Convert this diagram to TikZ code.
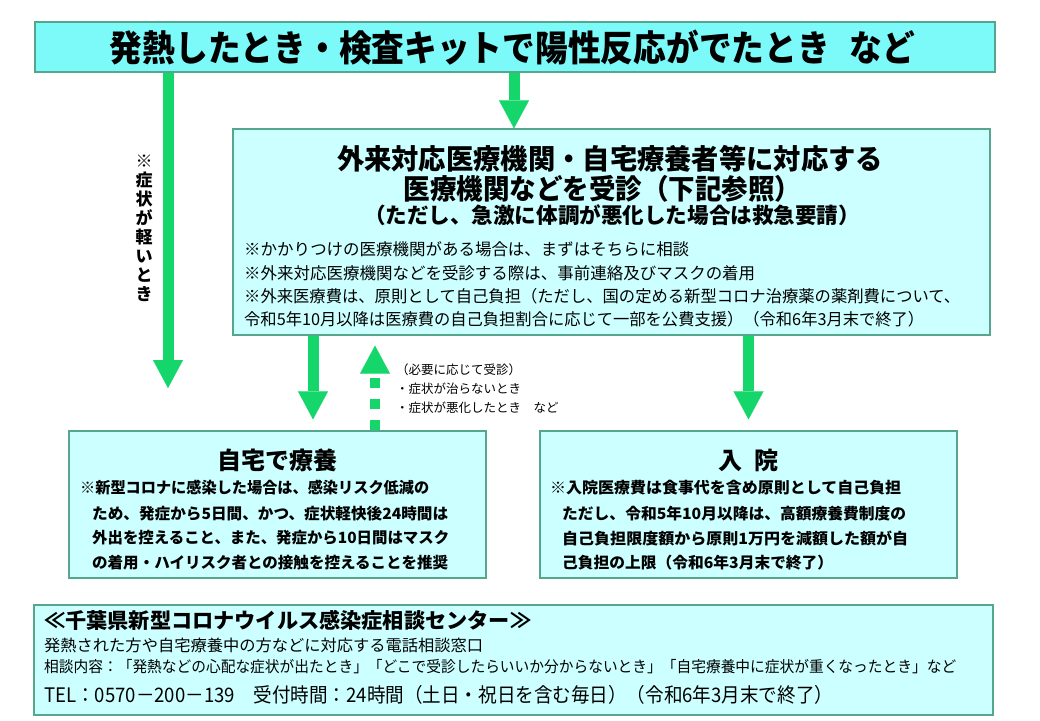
\documentclass[tikz,border=0pt]{standalone}
\usepackage{fontspec}
\usepackage{graphicx}
\usetikzlibrary{arrows.meta}
\newfontfamily\jp{Noto Sans CJK JP}
\definecolor{topfill}{HTML}{7CFAFA}
\definecolor{boxfill}{HTML}{CCFFFF}
\definecolor{boxline}{HTML}{55A68C}
\definecolor{arrowgreen}{HTML}{14D66A}
\newcommand\fw[2]{\resizebox{#1pt}{\height}{#2}}
\newcommand\fsz[1]{\fontsize{#1}{#1}\selectfont}
\begin{document}
\begin{tikzpicture}[x=1pt,y=-1pt,
  panel/.style={draw=boxline,line width=1.3pt,fill=boxfill,inner sep=0pt},
  txt/.style={inner sep=0pt,font=\jp},
  btxt/.style={inner sep=0pt,font=\jp\bfseries},
  garrow/.style={draw=arrowgreen,line width=11pt,
    -{Triangle[width=30pt,length=28pt,line width=0.1pt]}},
  darrow/.style={draw=arrowgreen,line width=10pt,dash pattern=on 10pt off 11pt,
    -{Triangle[width=30pt,length=28pt,line width=0.1pt]}}]
\useasboundingbox (0,0) rectangle (1040,720);
\fill[white] (0,0) rectangle (1040,720);

% boxes
\node[panel,fill=topfill,minimum width=960pt,minimum height=50pt] (top) at (515,47) {};
\node[panel,minimum width=757pt,minimum height=206pt] (mid) at (611.5,232) {};
\node[panel,minimum width=417pt,minimum height=147pt] (home) at (277.5,504.5) {};
\node[panel,minimum width=417pt,minimum height=147pt] (hosp) at (748.5,504.5) {};
\node[panel,minimum width=959pt,minimum height=110pt] (info) at (513.5,660) {};

% top title
\node[btxt] (toptitle) at (512.5,48) {\fsz{36}\fw{805}{発熱したとき・検査キットで陽性反応がでたとき\hspace{0.6em}など}};

% middle box
\node[btxt] (m1) at (610,159) {\fsz{28}\fw{546}{外来対応医療機関・自宅療養者等に対応する}};
\node[btxt] (m2) at (602.5,189) {\fsz{28}\fw{398}{医療機関などを受診（下記参照）}};
\node[btxt] (m3) at (612,215) {\fsz{21.5}\fw{496}{（ただし、急激に体調が悪化した場合は救急要請）}};
\node[txt,anchor=west] (n1) at (244,249) {\fsz{16.5}\fw{445}{※かかりつけの医療機関がある場合は、まずはそちらに相談}};
\node[txt,anchor=west] (n2) at (244,273) {\fsz{16.5}\fw{511}{※外来対応医療機関などを受診する際は、事前連絡及びマスクの着用}};
\node[txt,anchor=west] (n3) at (244,296) {\fsz{16.5}\fw{716}{※外来医療費は、原則として自己負担（ただし、国の定める新型コロナ治療薬の薬剤費について、}};
\node[txt,anchor=west] (n4) at (244,319) {\fsz{16.5}\fw{680}{令和5年10月以降は医療費の自己負担割合に応じて一部を公費支援）（令和6年3月末で終了）}};

% vertical label
\node[btxt,align=center,font=\jp\bfseries\fontsize{17}{19}\selectfont] (light) at (144,228)
  {※\\症\\状\\が\\軽\\い\\と\\き};

% home box
\node[btxt] (hometitle) at (277.5,460) {\fsz{24}自宅で療養};
\node[btxt,anchor=west] (h1) at (80,488) {\fsz{15.5}\fw{349}{※新型コロナに感染した場合は、感染リスク低減の}};
\node[btxt,anchor=west] (h2) at (92,514) {\fsz{15.5}\fw{356}{ため、発症から5日間、かつ、症状軽快後24時間は}};
\node[btxt,anchor=west] (h3) at (92,538) {\fsz{15.5}\fw{357}{外出を控えること、また、発症から10日間はマスク}};
\node[btxt,anchor=west] (h4) at (92,563) {\fsz{15.5}\fw{356}{の着用・ハイリスク者との接触を控えることを推奨}};

% hospital box
\node[btxt] (hosptitle) at (748,460) {\fsz{24}入\hspace{0.5em}院};
\node[btxt,anchor=west] (p1) at (550,488) {\fsz{15.5}\fw{351}{※入院医療費は食事代を含め原則として自己負担}};
\node[btxt,anchor=west] (p2) at (562,514) {\fsz{15.5}\fw{344}{ただし、令和5年10月以降は、高額療養費制度の}};
\node[btxt,anchor=west] (p3) at (562,538) {\fsz{15.5}\fw{346}{自己負担限度額から原則1万円を減額した額が自}};
\node[btxt,anchor=west] (p4) at (562,563) {\fsz{15.5}\fw{271}{己負担の上限（令和6年3月末で終了）}};

% info box
\node[btxt,anchor=west] (i1) at (44,620) {\fsz{21}\fw{487}{≪千葉県新型コロナウイルス感染症相談センター≫}};
\node[txt,anchor=west] (i2) at (44,645) {\fsz{16}\fw{439}{発熱された方や自宅療養中の方などに対応する電話相談窓口}};
\node[txt,anchor=west] (i3) at (44,667) {\fsz{15.5}\fw{912}{相談内容：「発熱などの心配な症状が出たとき」「どこで受診したらいいか分からないとき」「自宅療養中に症状が重くなったとき」など}};
\node[txt,anchor=west] (i4) at (44,695) {\fsz{20}\fw{789}{TEL：0570－200－139\hspace{1em}受付時間：24時間（土日・祝日を含む毎日）（令和6年3月末で終了）}};

% annotation
\node[txt,anchor=west,align=left,font=\jp\fontsize{12.5}{19}\selectfont] (note) at (396,389)
  {（必要に応じて受診）\\・症状が治らないとき\\・症状が悪化したとき\hspace{1em}など};

% connectors
\coordinate (lx) at (168,388);
\coordinate (mx) at (514,0);
\coordinate (hx) at (313,0);
\coordinate (dx) at (375,0);
\draw[garrow] (top.south -| lx) -- (lx);
\draw[garrow] (top.south -| mx) -- (mid.north -| mx);
\draw[garrow] (mid.south -| hx) -- ([yshift=11pt]home.north -| hx);
\draw[garrow] (mid.south -| hosp.north) -- ([yshift=11pt]hosp.north);
\draw[darrow] (home.north -| dx) -- ([yshift=-10pt]mid.south -| dx);
\end{tikzpicture}
\end{document}
